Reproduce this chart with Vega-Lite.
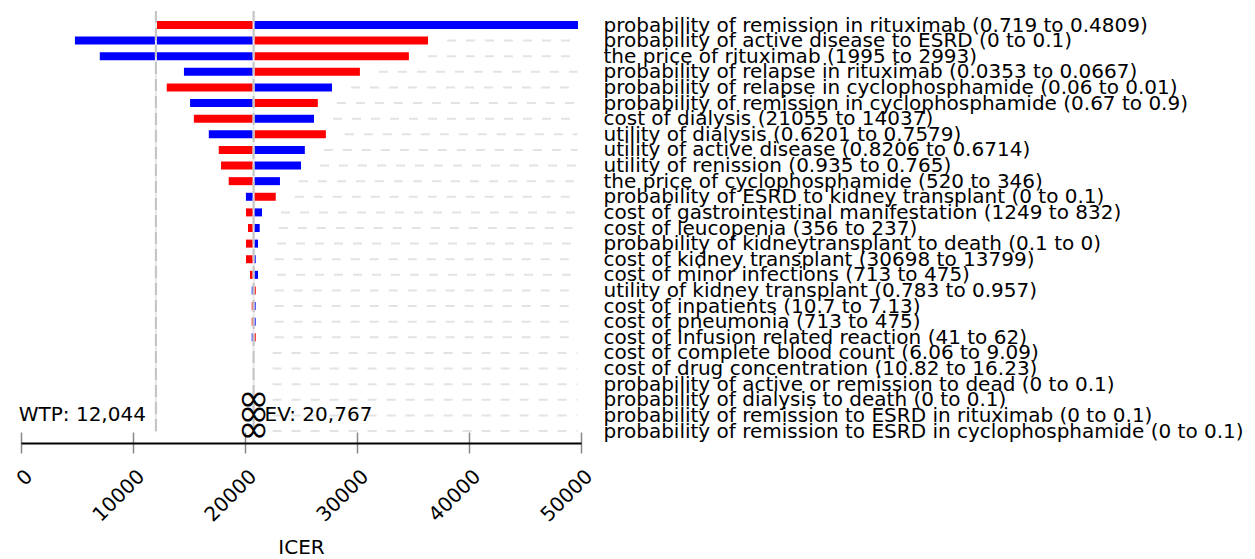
{
  "$schema": "https://vega.github.io/schema/vega-lite/v6.json",
  "width": 560,
  "height": 421,
  "autosize": {"type": "none"},
  "padding": {"left": 21, "top": 11, "right": 674, "bottom": 127},
  "background": "white",
  "config": {"view": {"stroke": null}, "font": "DejaVu Sans"},
  "data": {
    "values": [
      {"param": "probability of remission in rituximab (0.719 to 0.4809)", "red": 12124, "blue": 49730},
      {"param": "probability of active disease to ESRD (0 to 0.1)", "red": 36339, "blue": 4815},
      {"param": "the price of rituximab (1995 to 2993)", "red": 34631, "blue": 7035},
      {"param": "probability of relapse in rituximab (0.0353 to 0.0667)", "red": 30260, "blue": 14549},
      {"param": "probability of relapse in cyclophosphamide (0.06 to 0.01)", "red": 13012, "blue": 27767},
      {"param": "probability of remission in cyclophosphamide (0.67 to 0.9)", "red": 26503, "blue": 15096},
      {"param": "cost of dialysis (21055 to 14037)", "red": 15437, "blue": 26161},
      {"param": "utility of dialysis (0.6201 to 0.7579)", "red": 27220, "blue": 16769},
      {"param": "utility of active disease (0.8206 to 0.6714)", "red": 17657, "blue": 25342},
      {"param": "utility of renission (0.935 to 0.765)", "red": 17862, "blue": 25000},
      {"param": "the price of cyclophosphamide (520 to 346)", "red": 18545, "blue": 23122},
      {"param": "probability of ESRD to kidney transplant (0 to 0.1)", "red": 22746, "blue": 20082},
      {"param": "cost of gastrointestinal manifestation (1249 to 832)", "red": 20089, "blue": 21518},
      {"param": "cost of leucopenia (356 to 237)", "red": 20268, "blue": 21313},
      {"param": "probability of kidneytransplant to death (0.1 to 0)", "red": 20089, "blue": 21161},
      {"param": "cost of kidney transplant (30698 to 13799)", "red": 20089, "blue": 20955},
      {"param": "cost of minor infections (713 to 475)", "red": 20446, "blue": 21161},
      {"param": "utility of kidney transplant (0.783 to 0.957)", "red": 20960, "blue": 20600},
      {"param": "cost of inpatients (10.7 to 7.13)", "red": 20600, "blue": 20950},
      {"param": "cost of pneumonia (713 to 475)", "red": 20600, "blue": 20950},
      {"param": "cost of Infusion related reaction (41 to 62)", "red": 20960, "blue": 20600},
      {"param": "cost of complete  blood count (6.06 to 9.09)", "red": 20767, "blue": 20767},
      {"param": "cost of drug concentration (10.82 to 16.23)", "red": 20767, "blue": 20767},
      {"param": "probability of active or remission to dead (0 to 0.1)", "red": 20767, "blue": 20767},
      {"param": "probability of dialysis to death (0 to 0.1)", "red": 20767, "blue": 20767, "note": "∞"},
      {"param": "probability of remission to ESRD in rituximab (0 to 0.1)", "red": 20767, "blue": 20767, "note": "∞"},
      {"param": "probability of remission to ESRD in cyclophosphamide (0 to 0.1)", "red": 20767, "blue": 20767, "note": "∞"}
    ]
  },
  "resolve": {"axis": {"x": "independent"}},
  "layer": [
    {
      "mark": {"type": "bar", "color": "#ff0000", "size": 8},
      "encoding": {
        "x": {
          "field": "red", "type": "quantitative",
          "scale": {"domain": [0, 50000], "nice": false, "zero": false},
          "axis": {
            "orient": "bottom",
            "title": "ICER", "domain": false, "grid": false,
            "values": [0, 10000, 20000, 30000, 40000, 50000], "format": "d",
            "tickSize": 21, "tickColor": "#888888", "tickWidth": 1.5,
            "labelAngle": -45, "labelAlign": "right", "labelBaseline": "middle",
            "labelOffset": 8, "labelPadding": 20, "labelFontSize": 20, "labelFont": "DejaVu Sans",
            "labelColor": "black", "labelOverlap": false, "labelFlush": false, "labelBound": false,
            "titleFontSize": 20, "titleFontWeight": "normal", "titleColor": "black",
            "titlePadding": 12, "titleFont": "DejaVu Sans"
          }
        },
        "x2": {"datum": 20767},
        "y": {
          "field": "param", "type": "nominal", "sort": null,
          "scale": {"type": "point", "range": [14, 420], "padding": 0},
          "axis": {"orient": "right", "title": null, "domain": false, "ticks": false, "grid": false,
            "labelPadding": 22, "labelFont": "DejaVu Sans", "labelFontSize": 20, "labelColor": "black",
            "labelLimit": 0, "labelOverlap": false, "labelBound": false}
        }
      }
    },
    {
      "mark": {"type": "bar", "color": "#0000ff", "size": 8},
      "encoding": {
        "x": {"field": "blue", "type": "quantitative", "axis": null},
        "x2": {"datum": 20767},
        "y": {"field": "param", "type": "nominal", "sort": null}
      }
    },
    {
      "transform": [
        {"calculate": "max(datum.red, datum.blue, 20767)", "as": "dashStart"},
        {"filter": "datum.dashStart < 48000"}
      ],
      "mark": {"type": "rule", "color": "#e3e3e3", "strokeWidth": 2, "strokeDash": [9, 10], "xOffset": 19},
      "encoding": {
        "x": {"field": "dashStart", "type": "quantitative", "axis": null},
        "x2": {"datum": 49700},
        "y": {"field": "param", "type": "nominal", "sort": null}
      }
    },
    {
      "data": {"values": [{}]},
      "mark": {"type": "rule", "color": "#e8e8e8", "strokeWidth": 2},
      "encoding": {
        "x": {"datum": 12044, "type": "quantitative",
          "axis": {"orient": "bottom", "title": null, "labels": false, "ticks": false, "grid": false, "domain": true,
            "domainColor": "black", "domainWidth": 2, "offset": 11}}
      }
    },
    {
      "data": {"values": [{}]},
      "mark": {"type": "rule", "color": "#c4c4c4", "strokeWidth": 2, "strokeDash": [12, 5]},
      "encoding": {"x": {"datum": 12044, "type": "quantitative", "axis": null}}
    },
    {
      "data": {"values": [{}]},
      "mark": {"type": "rule", "color": "#e8e8e8", "strokeWidth": 2},
      "encoding": {"x": {"datum": 20767, "type": "quantitative", "axis": null}}
    },
    {
      "data": {"values": [{}]},
      "mark": {"type": "rule", "color": "#c4c4c4", "strokeWidth": 2, "strokeDash": [12, 5]},
      "encoding": {"x": {"datum": 20767, "type": "quantitative", "axis": null}}
    },
    {
      "transform": [{"filter": "datum.note != null"}],
      "mark": {"type": "text", "fontSize": 38, "font": "DejaVu Sans", "color": "black", "align": "center", "baseline": "middle", "dy": 0},
      "encoding": {
        "x": {"datum": 20767, "type": "quantitative", "axis": null},
        "y": {"field": "param", "type": "nominal", "sort": null},
        "text": {"field": "note"}
      }
    },
    {
      "data": {"values": [{}]},
      "mark": {"type": "text", "text": "WTP: 12,044", "fontSize": 20, "font": "DejaVu Sans", "color": "black", "align": "right", "baseline": "middle", "dx": -10},
      "encoding": {
        "x": {"datum": 12044, "type": "quantitative", "axis": null},
        "y": {"datum": "probability of remission to ESRD in rituximab (0 to 0.1)", "type": "nominal"}
      }
    },
    {
      "data": {"values": [{}]},
      "mark": {"type": "text", "text": "EV: 20,767", "fontSize": 20, "font": "DejaVu Sans", "color": "black", "align": "left", "baseline": "middle", "dx": 11},
      "encoding": {
        "x": {"datum": 20767, "type": "quantitative", "axis": null},
        "y": {"datum": "probability of remission to ESRD in rituximab (0 to 0.1)", "type": "nominal"}
      }
    }
  ]
}
